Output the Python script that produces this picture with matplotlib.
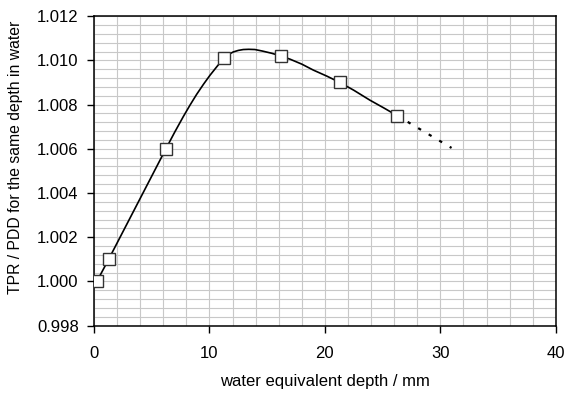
#!/usr/bin/env python3

import numpy as np
import matplotlib.pyplot as plt
from matplotlib.ticker import MultipleLocator, FormatStrFormatter

plt.rcParams['font.family'] = ['Liberation Sans', 'DejaVu Sans']

# measured points (markers)
depth = [0.25, 1.27, 6.23, 11.25, 16.2, 21.3, 26.26]
ratio = [1.0000, 1.0010, 1.0060, 1.0101, 1.0102, 1.0090, 1.0075]

# smooth curve
curve_x = [0.25, 1.27, 3.75, 6.23, 7.0, 7.73, 8.3, 8.89, 9.5, 10.04, 10.65,
           11.25, 11.6, 12.06, 12.5, 12.93, 13.4, 13.94, 14.6, 15.4, 16.2,
           17.0, 18.0, 19.0, 20.2, 21.3, 22.5, 23.9, 25.1, 26.26]
curve_y = [1.0000, 1.0010, 1.0035, 1.0060, 1.00676, 1.00745, 1.00796,
           1.00846, 1.00893, 1.00932, 1.00972, 1.0101, 1.01025, 1.01038,
           1.01045, 1.01049, 1.0105, 1.01049, 1.01042, 1.01032, 1.0102,
           1.01005, 1.00983, 1.00956, 1.00928, 1.0090, 1.00865, 1.0082,
           1.00785, 1.0075]

# dashed extrapolation
ext_x = [26.26, 30.97]
ext_y = [1.0075, 1.00604]


def main():
    fig = plt.figure(figsize=(5.66, 3.94), dpi=100)
    ax = fig.add_axes([0.166, 0.1734, 0.816, 0.7856])

    ax.set_xlim(0, 40)
    ax.set_ylim(0.998, 1.012)
    ax.xaxis.set_major_locator(MultipleLocator(10))
    ax.xaxis.set_minor_locator(MultipleLocator(2))
    ax.yaxis.set_major_locator(MultipleLocator(0.002))
    ax.yaxis.set_minor_locator(MultipleLocator(0.0004))
    ax.yaxis.set_major_formatter(FormatStrFormatter('%.3f'))

    ax.grid(True, which='both', color='#c8c8c8', lw=0.8)
    ax.set_axisbelow(True)
    ax.tick_params(which='minor', length=0)
    ax.tick_params(which='major', direction='out', length=5, width=1,
                   labelsize=12)
    ax.tick_params(axis='x', pad=9.5)
    ax.tick_params(axis='y', pad=6)
    for s in ax.spines.values():
        s.set_linewidth(1.1)

    ax.plot(curve_x, curve_y, color='black', lw=1.2, zorder=3)
    ax.plot(ext_x, ext_y, color='black', lw=1.6, ls=(0, (1.5, 4)), zorder=3)
    ax.plot(depth, ratio, ls='none', marker='s', ms=8, mfc='white',
            mec='#333333', mew=1.0, zorder=4)

    ax.set_xlabel('water equivalent depth / mm', fontsize=12, labelpad=9.5)
    ax.set_ylabel('TPR / PDD for the same depth in water', fontsize=11.3)
    ax.yaxis.set_label_coords(-0.1536, 0.545)

    fig.savefig('out.png', dpi=100)


if __name__ == "__main__":
    main()
